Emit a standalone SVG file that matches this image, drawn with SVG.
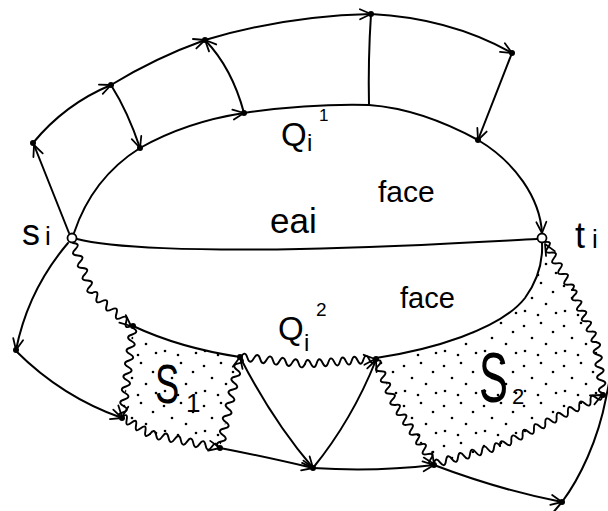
<svg xmlns="http://www.w3.org/2000/svg" xmlns:xlink="http://www.w3.org/1999/xlink" width="608" height="511" viewBox="0 0 608 511">
<style>
.l{fill:none;stroke:#000;stroke-width:2;stroke-linecap:round;stroke-linejoin:round}
.w{fill:none;stroke:#000;stroke-width:1.9;stroke-linecap:round}
.d{fill:#000}
.o{fill:#fff;stroke:#000;stroke-width:1.8}
.t{font-family:"Liberation Sans",Arial,sans-serif;fill:#000}
.ah{fill:none;stroke:#000;stroke-width:1.8;stroke-linecap:round;stroke-linejoin:round}
</style>
<defs>
<marker id="ar" viewBox="-14 -8 16 16" refX="0" refY="0" markerWidth="16" markerHeight="16" markerUnits="userSpaceOnUse" orient="auto">
<path d="M-11,-5 L0,0 L-11,5" class="ah"/>
</marker>
<path id="ah" d="M-11,-5 L0,0 L-11,5" class="ah"/>
<pattern id="stip" patternUnits="userSpaceOnUse" width="40" height="40">
<circle cx="4" cy="6" r="1.3"/><circle cx="21" cy="3" r="1.3"/><circle cx="33" cy="12" r="1.3"/>
<circle cx="12" cy="18" r="1.3"/><circle cx="26" cy="24" r="1.3"/><circle cx="5" cy="31" r="1.3"/>
<circle cx="18" cy="35" r="1.3"/><circle cx="36" cy="33" r="1.3"/>
</pattern>
</defs>
<rect width="608" height="511" fill="#fff"/>

<g id="regions">
<path id="S1" d="M133 326 Q180 348 240 357 L220 448 L150 434 L122 417 Z" fill="url(#stip)"/>
<path id="S2" d="M376 358 C430 350 500 330 525 298 C538 280 543 262 542 243 L549 246 L572 290 L596 342 L603 393 L500 446 L434 464 L395 405 Z" fill="url(#stip)"/>
</g>

<g id="connectors">
<path class="l" d="M77 239 C110 248 200 251 300 249 S480 242 537 239"/>
<path class="l" d="M74 233 C85 200 105 170 140 148 C170 131 205 119 244 113" marker-end="url(#ar)"/>
<path class="l" d="M244 113 C285 107 330 104 369 105 C410 108 445 122 478 140 C515 162 540 198 542 233" marker-end="url(#ar)"/>
<path class="l" d="M69 233 L34 145" marker-end="url(#ar)"/>
<path class="l" d="M33 143 Q65 104 111 85" marker-end="url(#ar)"/>
<path class="l" d="M111 85 Q155 58 205 40" marker-end="url(#ar)"/>
<path class="l" d="M205 40 Q285 16 371 14" marker-end="url(#ar)"/>
<path class="l" d="M371 14 Q450 18 512 53" marker-end="url(#ar)"/>
<path class="l" d="M111 85 Q128 112 140 148" marker-end="url(#ar)"/>
<path class="l" d="M244 113 Q232 68 205 40" marker-end="url(#ar)"/>
<path class="l" d="M371 14 Q368 60 369 105"/>
<path class="l" d="M512 53 L478 140" marker-end="url(#ar)"/>
<path class="l" d="M68 243 Q28 290 16 350" marker-end="url(#ar)"/>
<path class="l" d="M16 351 Q62 397 122 418" marker-end="url(#ar)"/>
<path class="l" d="M133 326 Q180 348 240 357"/>
<path class="l" d="M376 358 C430 350 500 330 525 298 C538 280 543 262 542 243"/>
<path class="l" d="M240 357 Q272 420 313 468" marker-end="url(#ar)"/>
<path class="l" d="M313 468 Q352 420 376 360" marker-end="url(#ar)"/>
<path class="l" d="M220 448 Q262 456 313 468" marker-end="url(#ar)"/>
<path class="l" d="M313 468 Q375 472 434 465" marker-end="url(#ar)"/>
<path class="l" d="M434 465 Q500 490 562 502" marker-end="url(#ar)"/>
<path class="l" d="M551 515 L562 502 C580 478 598 440 606 398 L610 378"/>
<path class="w" transform="translate(73,243) rotate(69.2)" d="M0 0q3.35 -7.5 6.69 0t6.69 0t6.69 0t6.69 0t6.69 0t6.69 0t6.69 0t6.69 0"/>
<path class="w" transform="translate(92,293) rotate(40.2)" d="M0 0q3.2 -7.5 6.39 0t6.39 0t6.39 0t6.39 0t6.39 0t6.39 0t6.39 0t6.39 0"/>
<path class="w" transform="translate(133,328) rotate(96.9)" d="M0 0q3.28 -7.5 6.55 0t6.55 0t6.55 0t6.55 0t6.55 0t6.55 0t6.55 0t6.55 0t6.55 0t6.55 0t6.55 0t6.55 0t6.55 0t6.55 0"/>
<path class="w" transform="translate(122,417) rotate(31.3)" d="M0 0q2.74 -7.5 5.47 0t5.47 0t5.47 0t5.47 0t5.47 0t5.47 0"/>
<path class="w" transform="translate(150,434) rotate(11.6)" d="M0 0q3.16 -7.5 6.31 0t6.31 0t6.31 0t6.31 0t6.31 0t6.31 0t6.31 0t6.31 0t6.31 0t6.31 0t6.31 0"/>
<path class="w" transform="translate(220,448) rotate(-77.6)" d="M0 0q3.33 -7.5 6.66 0t6.66 0t6.66 0t6.66 0t6.66 0t6.66 0t6.66 0t6.66 0t6.66 0t6.66 0t6.66 0t6.66 0t6.66 0t6.66 0"/>
<path class="w" transform="translate(241,357) rotate(6.24)" d="M0 0q3.22 -7.5 6.44 0t6.44 0t6.44 0t6.44 0t6.44 0t6.44 0t6.44 0t6.44 0t6.44 0t6.44 0"/>
<path class="w" transform="translate(305,364) rotate(-4.09)" d="M0 0q2.93 -7.5 5.85 0t5.85 0t5.85 0t5.85 0t5.85 0t5.85 0t5.85 0t5.85 0t5.85 0t5.85 0t5.85 0t5.85 0"/>
<path class="w" transform="translate(376,360) rotate(67.1)" d="M0 0q3.05 -7.5 6.1 0t6.1 0t6.1 0t6.1 0t6.1 0t6.1 0t6.1 0t6.1 0"/>
<path class="w" transform="translate(395,405) rotate(56.5)" d="M0 0q2.95 -7.5 5.89 0t5.89 0t5.89 0t5.89 0t5.89 0t5.89 0t5.89 0t5.89 0t5.89 0t5.89 0t5.89 0t5.89 0"/>
<path class="w" transform="translate(434,464) rotate(-15.3)" d="M0 0q3.11 -7.5 6.22 0t6.22 0t6.22 0t6.22 0t6.22 0t6.22 0t6.22 0t6.22 0t6.22 0t6.22 0t6.22 0"/>
<path class="w" transform="translate(500,446) rotate(-26.6)" d="M0 0q3.17 -7.5 6.33 0t6.33 0t6.33 0t6.33 0t6.33 0t6.33 0t6.33 0t6.33 0t6.33 0t6.33 0t6.33 0t6.33 0t6.33 0t6.33 0t6.33 0t6.33 0t6.33 0t6.33 0"/>
<path class="w" transform="translate(545,242) rotate(60.6)" d="M0 0q3.06 -7.5 6.12 0t6.12 0t6.12 0t6.12 0t6.12 0t6.12 0t6.12 0t6.12 0t6.12 0"/>
<path class="w" transform="translate(572,290) rotate(65.2)" d="M0 0q2.87 -7.5 5.73 0t5.73 0t5.73 0t5.73 0t5.73 0t5.73 0t5.73 0t5.73 0t5.73 0t5.73 0"/>
<path class="w" transform="translate(596,342) rotate(82.2)" d="M0 0q3.22 -7.5 6.44 0t6.44 0t6.44 0t6.44 0t6.44 0t6.44 0t6.44 0t6.44 0"/>
<use xlink:href="#ah" transform="translate(131,326) rotate(40.2)"/>
<use xlink:href="#ah" transform="translate(122,417) rotate(96.9)"/>
<use xlink:href="#ah" transform="translate(220,448) rotate(11.6)"/>
<use xlink:href="#ah" transform="translate(240,357) rotate(-77.6)"/>
<use xlink:href="#ah" transform="translate(375,359) rotate(-4.1)"/>
<use xlink:href="#ah" transform="translate(434,464) rotate(56.5)"/>
<use xlink:href="#ah" transform="translate(602,395) rotate(-26.6)"/>
<use xlink:href="#ah" transform="translate(545,244) rotate(-119.4)"/>
</g>

<g id="n1"><circle class="d" cx="33" cy="143" r="3"/></g>
<g id="n2"><circle class="d" cx="111" cy="85" r="3"/></g>
<g id="n3"><circle class="d" cx="205" cy="40" r="3"/></g>
<g id="n4"><circle class="d" cx="371" cy="14" r="3"/></g>
<g id="n5"><circle class="d" cx="512" cy="53" r="3"/></g>
<g id="n6"><circle class="d" cx="140" cy="148" r="3"/></g>
<g id="n7"><circle class="d" cx="244" cy="113" r="3"/></g>
<g id="n8"><circle class="d" cx="478" cy="140" r="3"/></g>
<g id="n9"><circle class="d" cx="16" cy="350" r="3"/></g>
<g id="n10"><circle class="d" cx="133" cy="326" r="3"/></g>
<g id="n11"><circle class="d" cx="240" cy="357" r="3"/></g>
<g id="n12"><circle class="d" cx="122" cy="418" r="3"/></g>
<g id="n13"><circle class="d" cx="220" cy="448" r="3"/></g>
<g id="n14"><circle class="d" cx="313" cy="468" r="3"/></g>
<g id="n15"><circle class="d" cx="376" cy="359" r="3"/></g>
<g id="n16"><circle class="d" cx="434" cy="465" r="3"/></g>
<g id="n17"><circle class="d" cx="562" cy="502" r="3"/></g>
<g id="n18"><circle class="d" cx="603" cy="395" r="3"/></g>
<g id="s_i"><circle class="o" cx="72" cy="238" r="4.5"/><text class="t" x="22" y="245" font-size="36">s<tspan x="45" font-size="26">i</tspan></text></g>
<g id="t_i"><circle class="o" cx="542" cy="238" r="4.5"/><text class="t" x="575" y="248" font-size="36">t<tspan x="592" font-size="26">i</tspan></text></g>

<g id="labels">
<text class="t" x="270" y="233" font-size="35">eai</text>
<text class="t" x="378" y="202" font-size="30">face</text>
<text class="t" x="400" y="308" font-size="29">face</text>
<text class="t" x="281" y="146" font-size="33">Q</text>
<text class="t" x="307" y="151" font-size="24">i</text>
<text class="t" x="319" y="121" font-size="17">1</text>
<text class="t" x="278" y="340" font-size="33">Q</text>
<text class="t" x="304" y="351" font-size="24">i</text>
<text class="t" x="316" y="316" font-size="19">2</text>
<text class="t" transform="translate(155,403) scale(0.65,1)" font-size="56">S</text>
<text class="t" x="186" y="412" font-size="26">1</text>
<text class="t" transform="translate(479,402) scale(0.62,1)" font-size="70">S</text>
<text class="t" x="512" y="404" font-size="22">2</text>
</g>
</svg>
